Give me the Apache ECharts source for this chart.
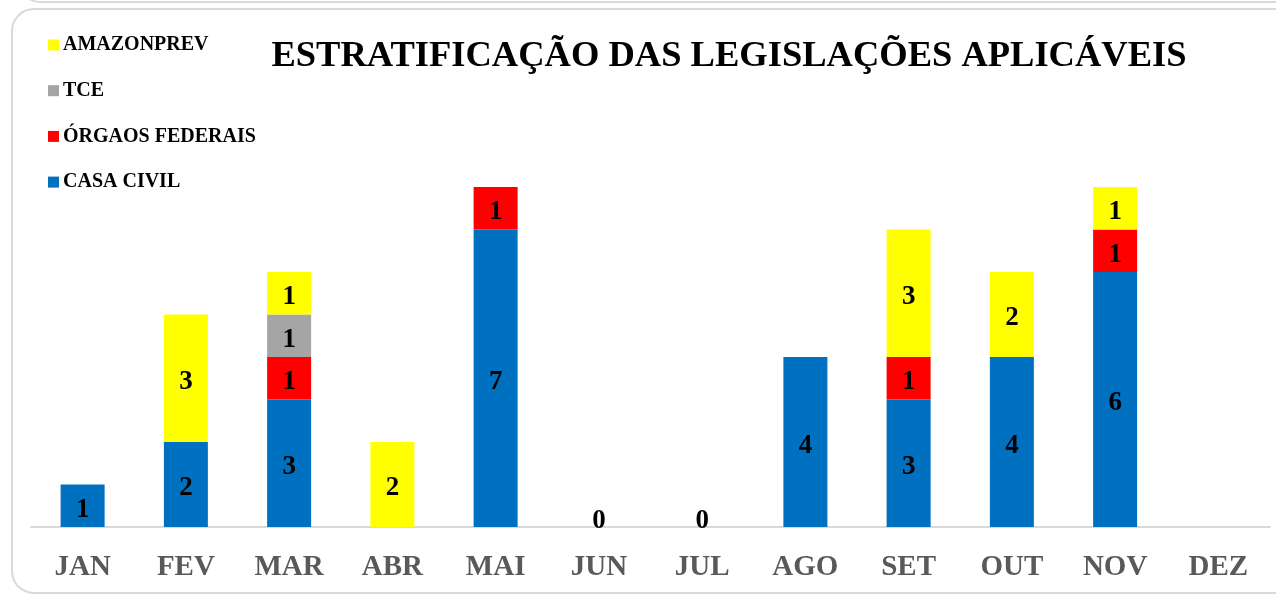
<!DOCTYPE html>
<html>
<head>
<meta charset="utf-8">
<title>Estratificação das legislações aplicáveis</title>
<script src="https://cdn.jsdelivr.net/npm/echarts@6/dist/echarts.min.js"></script>
<style>
    html, body { margin: 0; padding: 0; background: #fff; }
    #chart { width: 1276px; height: 596px; }
</style>
</head>
<body>
<div id="chart"></div>
<script>
// valores
var meses = ["JAN", "FEV", "MAR", "ABR", "MAI", "JUN", "JUL", "AGO", "SET", "OUT", "NOV", "DEZ"];
var casaCivil = [1, 2, 3, '-', 7, 0, 0, 4, 3, 4, 6, '-'];
var orgaosFederais = ['-', '-', 1, '-', 1, '-', '-', '-', 1, '-', 1, '-'];
var tce = ['-', '-', 1, '-', '-', '-', '-', '-', '-', '-', '-', '-'];
var amazonprev = ['-', 3, 1, 2, '-', '-', '-', '-', 3, 2, 1, '-'];

var serif = "'Liberation Serif', 'DejaVu Serif', serif";

var rotulo = {
    show: true,
    position: 'inside',
    offset: [0, 4],
    color: '#000',
    fontFamily: serif,
    fontWeight: 'bold',
    fontSize: 27
};

// zeros de JUN/JUL aparecem logo acima da linha
var dadosCasa = casaCivil.map(function (v) {
    if (v === 0) {
        return { value: 0, label: { position: 'top', distance: -4 } };
    }
    return v;
});

function serie(nome, cor, dados) {
    return {
        name: nome,
        type: 'bar',
        stack: 'total',
        barWidth: 44,
        data: dados,
        itemStyle: { color: cor },
        label: rotulo
    };
}

var myChart = echarts.init(document.getElementById('chart'));
myChart.setOption({
    animation: false,
    title: {
        text: 'ESTRATIFICAÇÃO DAS LEGISLAÇÕES APLICÁVEIS',
        left: 724,
        top: 33,
        textAlign: 'center',
        textStyle: {
            fontFamily: serif,
            fontWeight: 'bold',
            fontSize: 36.5,
            color: '#000'
        }
    },
    legend: {
        orient: 'vertical',
        left: 43,
        top: 30,
        itemGap: 25.7,
        itemWidth: 11,
        itemHeight: 11,
        icon: 'rect',
        data: ['AMAZONPREV', 'TCE', 'ÓRGAOS FEDERAIS', 'CASA CIVIL'],
        textStyle: {
            fontFamily: serif,
            fontWeight: 'bold',
            fontSize: 20,
            lineHeight: 20,
            color: '#000',
            padding: [0, 0, 0, -1]
        }
    },
    grid: {
        left: 31,
        right: 6,
        top: 187,
        bottom: 69,
        containLabel: false
    },
    xAxis: {
        type: 'category',
        data: meses,
        axisLine: { lineStyle: { color: '#d9d9d9', width: 2 } },
        axisTick: { show: false },
        axisLabel: {
            margin: 26,
            color: '#595959',
            fontFamily: serif,
            fontWeight: 'bold',
            fontSize: 29
        }
    },
    yAxis: {
        type: 'value',
        min: 0,
        max: 8,
        show: false,
        splitLine: { show: false }
    },
    series: [
        serie('CASA CIVIL', '#0070C0', dadosCasa),
        serie('ÓRGAOS FEDERAIS', '#FF0000', orgaosFederais),
        serie('TCE', '#A5A5A5', tce),
        serie('AMAZONPREV', '#FFFF00', amazonprev)
    ],
    graphic: [
        {
            type: 'rect',
            shape: { x: 20, y: -60, width: 1300, height: 62, r: 20 },
            style: { fill: 'none', stroke: '#d9d9d9', lineWidth: 2 }
        },
        {
            type: 'rect',
            shape: { x: 12, y: 9, width: 1300, height: 584, r: 22 },
            style: { fill: 'none', stroke: '#d9d9d9', lineWidth: 2 }
        }
    ]
});
</script>
</body>
</html>
